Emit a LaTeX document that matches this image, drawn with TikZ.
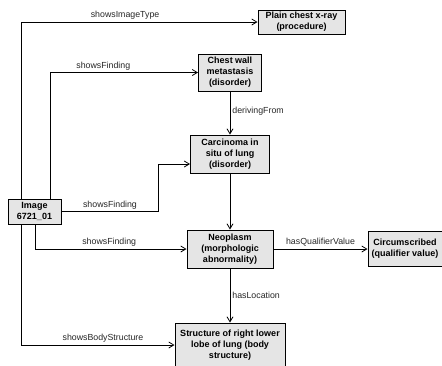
\documentclass[tikz,border=0pt]{standalone}
\usepackage{fontspec}
\setmainfont{Liberation Sans}
\usetikzlibrary{positioning,arrows.meta}
\definecolor{conceptgray}{RGB}{229,229,229}

\begin{document}
\begin{tikzpicture}[x=1pt,y=1pt,
	concept/.style={draw,line width=1pt,fill=conceptgray,align=center,font=\fontsize{9}{11}\selectfont\bfseries,inner sep=1pt},
	rel/.style={line width=0.8pt,-{Straight Barb[length=5pt,width=6pt]}},
	lbl/.style={font=\fontsize{8.8}{10}\selectfont,text=black!85,inner sep=2pt}]
	\useasboundingbox (0,0) rectangle (442,-365);

	\node[concept,minimum width=87pt,minimum height=24pt] (xray) at (301.5,-22) {Plain chest x-ray\\(procedure)};
	\node[concept,minimum width=63pt,minimum height=37pt] (chest) at (230,-72.5) {Chest wall\\metastasis\\(disorder)};
	\node[concept,minimum width=79pt,minimum height=38pt,below=43pt of chest] (carc) {Carcinoma in\\situ of lung\\(disorder)};
	\node[concept,minimum width=86pt,minimum height=38pt,below=56pt of carc] (neo) {Neoplasm\\(morphologic\\abnormality)};
	\node[concept,minimum width=74pt,minimum height=35pt,right=94pt of neo] (circ) {Circumscribed\\(qualifier value)};
	\node[concept,minimum width=110pt,minimum height=44pt,below=54pt of neo] (struct) {Structure of right lower\\lobe of lung (body\\structure)};
	\node[concept,minimum width=53pt,minimum height=25pt] (img) at (34.5,-211.5) {Image\\6721\_01};

	\draw[rel] ([xshift=-13.5pt]img.north) |- node[lbl,pos=0.72,above]{showsImageType} (xray);
	\draw[rel] ([xshift=15.5pt]img.north) |- node[lbl,pos=0.68,above]{showsFinding} (chest);
	\draw[rel] (chest) -- node[lbl,right,pos=0.45]{derivingFrom} (carc);
	\draw[rel] (img.east) -- node[lbl,above]{showsFinding} ++(97,0) |- ([yshift=-10pt]carc.west);
	\draw[rel] (carc) -- (neo);
	\draw[rel] ([xshift=0.5pt]img.south) |- node[lbl,pos=0.745,above]{showsFinding} (neo);
	\draw[rel] (neo) -- node[lbl,above]{hasQualifierValue} (circ);
	\draw[rel] (neo) -- node[lbl,right]{hasLocation} (struct);
	\draw[rel] ([xshift=-13.5pt]img.south) |- node[lbl,pos=0.767,above]{showsBodyStructure} (struct);
\end{tikzpicture}
\end{document}
